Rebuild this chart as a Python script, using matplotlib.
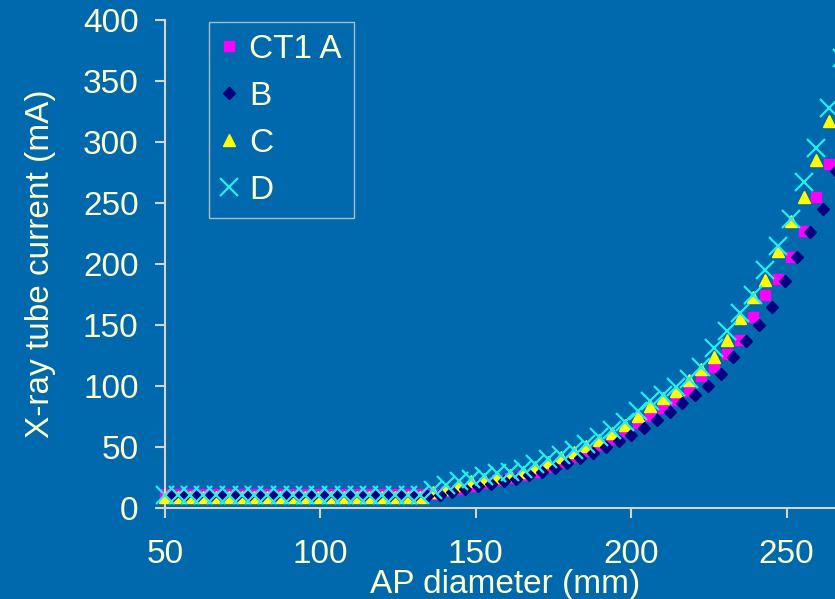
import matplotlib
matplotlib.use("Agg")
import matplotlib.pyplot as plt

plt.rcParams['font.family'] = ['Liberation Sans', 'DejaVu Sans']

# AP diameter sample positions (mm) for scanners A, C and D
DIAMETER = [50.0, 54.1, 58.2, 62.3, 66.4, 70.6, 74.7, 78.8, 82.9, 87.0,
            91.1, 95.2, 99.3, 103.4, 107.5, 111.7, 115.8, 119.9, 124.0, 128.1,
            132.2, 136.3, 140.4, 144.5, 148.6, 152.8, 156.9, 161.0, 165.1, 169.2,
            173.3, 177.4, 181.5, 185.6, 189.7, 193.9, 198.0, 202.1, 206.2, 210.3,
            214.4, 218.5, 222.6, 226.7, 230.8, 234.9, 239.1, 243.2, 247.3, 251.4,
            255.5, 259.6, 263.7, 267.8]

# AP diameter sample positions (mm) for scanner B
DIAMETER_B = [52.1, 56.2, 60.3, 64.4, 68.5, 72.7, 76.8, 80.9, 85.0, 89.1,
              93.2, 97.3, 101.4, 105.5, 109.6, 113.8, 117.9, 122.0, 126.1, 130.2,
              134.3, 138.4, 142.5, 146.6, 150.7, 154.9, 159.0, 163.1, 167.2, 171.3,
              175.4, 179.5, 183.6, 187.7, 191.8, 196.0, 200.1, 204.2, 208.3, 212.4,
              216.5, 220.6, 224.7, 228.8, 232.9, 237.0, 241.2, 245.3, 249.4, 253.5,
              257.6, 261.7, 265.8]

# X-ray tube current (mA)
CURRENT_A = [12, 12, 12, 12, 12, 12, 12, 12, 12, 12,
             12, 12, 12, 12, 12, 12, 12, 12, 12, 12,
             12, 12, 14, 16, 18, 21, 23, 25, 27, 30,
             34, 38, 42, 47, 52, 57, 63, 70, 76, 82,
             89, 96, 108, 116, 126, 138, 157, 175, 188, 206,
             227, 255, 282, 315]

CURRENT_B = [10, 10, 10, 10, 10, 10, 10, 10, 10, 10,
             10, 10, 10, 10, 10, 10, 10, 10, 10, 10,
             10, 11, 13, 16, 18, 20, 22, 24, 27, 30,
             33, 37, 41, 45, 50, 55, 60, 66, 72, 79,
             86, 93, 100, 110, 124, 137, 150, 165, 186, 206,
             226, 245, 276]

CURRENT_C = [9, 9, 9, 9, 9, 9, 9, 9, 9, 9,
             9, 9, 9, 9, 9, 9, 9, 9, 9, 9,
             9, 13, 16, 19, 22, 24, 26, 27, 30, 34,
             38, 42, 46, 51, 56, 62, 68, 76, 84, 90,
             96, 105, 114, 124, 138, 156, 173, 187, 211, 235,
             255, 285, 317, 352]

CURRENT_D = [11, 11, 11, 11, 11, 11, 11, 11, 11, 11,
             11, 11, 11, 11, 11, 11, 11, 11, 11, 11,
             11, 15, 19, 22, 24, 26.5, 29, 30, 32, 36,
             40, 44, 48, 53, 58, 64, 71, 80, 88, 93,
             99, 106, 116, 131, 145, 160, 175, 195, 215, 237,
             267, 295, 328, 369]

SERIES_LABELS = ["CT1 A", "B", "C", "D"]
X_TICKS = [50, 100, 150, 200, 250]
Y_TICKS = [0, 50, 100, 150, 200, 250, 300, 350, 400]

BG = "#0068AD"
TEXT = "#FFFFCC"
AXIS = "#D4D4C8"
FS = 24

fig = plt.figure(figsize=(8.35, 5.99), dpi=100, facecolor=BG)
ax = fig.add_axes([165 / 835, 90.7 / 599, 670 / 835, 488.3 / 599])
ax.set_facecolor(BG)

ax.plot(DIAMETER, CURRENT_A, linestyle="none", marker="s", markersize=7.5,
        color="#FF00FF", label=SERIES_LABELS[0], clip_on=False, zorder=2)
ax.plot(DIAMETER_B, CURRENT_B, linestyle="none", marker="D", markersize=5.8,
        color="#000080", label=SERIES_LABELS[1], clip_on=False, zorder=4)
ax.plot(DIAMETER, CURRENT_C, linestyle="none", marker="^", markersize=9,
        color="#FFFF00", label=SERIES_LABELS[2], clip_on=False, zorder=3)
ax.plot(DIAMETER, CURRENT_D, linestyle="none", marker="x", markersize=13,
        markeredgewidth=1.6, color="#22EEEE", label=SERIES_LABELS[3],
        clip_on=False, zorder=5)

ax.set_xlim(50, 265.6)
ax.set_ylim(0, 400)
ax.set_xticks(X_TICKS)
ax.set_yticks(Y_TICKS)

for side in ("top", "right"):
    ax.spines[side].set_visible(False)
for side in ("left", "bottom"):
    ax.spines[side].set_color(AXIS)
    ax.spines[side].set_linewidth(1.5)

ax.tick_params(axis="both", which="major", direction="out", color=AXIS,
               width=1.5, length=7, labelcolor=TEXT, labelsize=FS)
ax.tick_params(axis="y", pad=12)
ax.tick_params(axis="x", pad=15)

ax.set_xlabel("AP diameter (mm)", fontsize=FS, color=TEXT, va="top")
ax.xaxis.set_label_coords(0.507, -0.124)
ax.set_ylabel("X-ray tube current (mA)", fontsize=FS, color=TEXT)
ax.yaxis.set_label_coords(-0.163, 0.5)

leg = ax.legend(loc="upper left", bbox_to_anchor=(44 / 670, 0.996),
                borderaxespad=0, fontsize=FS, frameon=True, fancybox=False,
                handlelength=0.5, handletextpad=0.35, labelspacing=0.48,
                borderpad=0.36, numpoints=1)
frame = leg.get_frame()
frame.set_facecolor(BG)
frame.set_edgecolor(AXIS)
frame.set_linewidth(1.0)
for t in leg.get_texts():
    t.set_color(TEXT)

fig.savefig("out.png", dpi=100, facecolor=BG)
